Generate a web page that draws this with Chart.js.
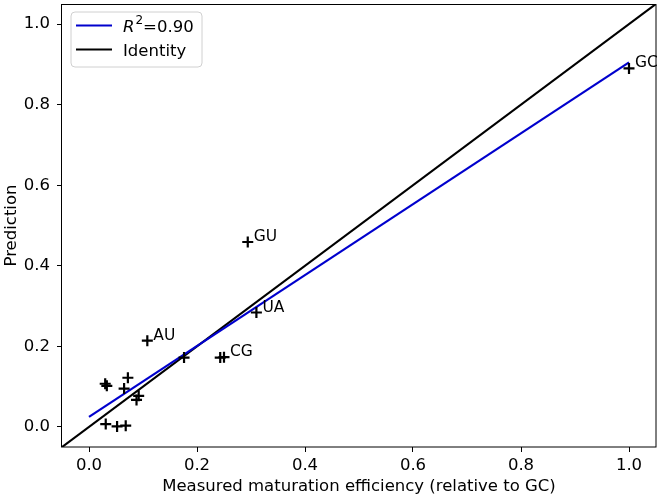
<!DOCTYPE html>
<html>
<head>
<meta charset="utf-8">
<script src="https://cdn.jsdelivr.net/npm/chart.js@4/dist/chart.umd.min.js"></script>
<style>
  body { margin: 0; background: #fff; }
  #wrap { width: 661px; height: 500px; }
</style>
</head>
<body>
<div id="wrap"><canvas id="chart" width="661" height="500"></canvas></div>
<script>
// measured vs predicted maturation efficiency
const measured  = [0.030, 0.033, 0.072, 0.065, 0.092, 0.088, 0.031, 0.052, 0.068, 0.108, 0.176, 0.243, 0.250, 0.310, 0.294, 1.000];
const predicted = [0.107, 0.102, 0.122, 0.095, 0.077, 0.067, 0.007, 0.001, 0.003, 0.214, 0.172, 0.172, 0.173, 0.284, 0.459, 0.890];
const pointNames = ['', '', '', '', '', '', '', '', '', 'AU', '', '', 'CG', 'UA', 'GU', 'GC'];

// regression fit (R^2 = 0.90) and identity line
const fitX = [0, 1];
const fitY = [0.025, 0.905];
const identityX = [-0.05, 1.05];
const identityY = [-0.05, 1.05];

const tickValues = [0, 0.2, 0.4, 0.6, 0.8, 1.0];
const axisMin = -0.05;
const axisMax = 1.05;

const FONT = '"DejaVu Sans", sans-serif';
const FS = 16.5;

// put the names next to the labelled points
const pointLabelPlugin = {
    id: 'pointLabels',
    afterDatasetsDraw(chart) {
        let ctx = chart.ctx;
        let xs = chart.scales.x, ys = chart.scales.y;
        ctx.save();
        ctx.font = '15.5px ' + FONT;
        ctx.fillStyle = '#000';
        ctx.textAlign = 'left';
        ctx.textBaseline = 'middle';
        pointNames.forEach((name, i) => {
            if (!name) return;
            ctx.fillText(name, xs.getPixelForValue(measured[i]) + 6, ys.getPixelForValue(predicted[i]) - 5);
        });
        ctx.restore();
    }
};

// axes frame + matplotlib style legend
const framePlugin = {
    id: 'frame',
    afterDraw(chart) {
        let ctx = chart.ctx;
        let a = chart.chartArea;
        ctx.save();
        ctx.strokeStyle = '#000';
        ctx.lineWidth = 1;
        ctx.strokeRect(Math.round(a.left) - 0.5, Math.round(a.top) + 0.5,
            Math.round(a.right - a.left) + 0.5, Math.round(a.bottom - a.top) - 0.5);

        // legend box
        let bx = 71, by = 12, bw = 131, bh = 55, r = 4;
        ctx.beginPath();
        ctx.moveTo(bx + r, by);
        ctx.arcTo(bx + bw, by, bx + bw, by + bh, r);
        ctx.arcTo(bx + bw, by + bh, bx, by + bh, r);
        ctx.arcTo(bx, by + bh, bx, by, r);
        ctx.arcTo(bx, by, bx + bw, by, r);
        ctx.closePath();
        ctx.fillStyle = 'rgba(255,255,255,0.8)';
        ctx.fill();
        ctx.strokeStyle = '#d0d0d0';
        ctx.stroke();

        ctx.lineWidth = 2.2;
        ctx.strokeStyle = '#0000cd';
        ctx.beginPath(); ctx.moveTo(76, 25.5); ctx.lineTo(112, 25.5); ctx.stroke();
        ctx.strokeStyle = '#000';
        ctx.beginPath(); ctx.moveTo(76, 49.5); ctx.lineTo(112, 49.5); ctx.stroke();

        ctx.fillStyle = '#000';
        ctx.textBaseline = 'alphabetic';
        ctx.textAlign = 'left';
        let x = 123;
        ctx.font = 'italic ' + FS + 'px ' + FONT;
        ctx.fillText('R', x, 31.5);
        x += ctx.measureText('R').width + 1;
        ctx.font = '12px ' + FONT;
        ctx.fillText('2', x, 24);
        x += ctx.measureText('2').width;
        ctx.font = FS + 'px ' + FONT;
        ctx.fillText('=0.90', x, 31.5);
        ctx.fillText('Identity', 123, 55.5);
        ctx.restore();
    }
};

const tickOpts = {
    color: '#000',
    font: { family: FONT, size: FS },
    callback: v => v.toFixed(1)
};
const gridOpts = {
    drawOnChartArea: false,
    drawTicks: true,
    tickLength: 5,
    tickWidth: 1,
    tickColor: '#000'
};

new Chart(document.getElementById('chart').getContext('2d'), {
    type: 'scatter',
    data: {
        datasets: [{
            label: 'points',
            data: measured.map((v, i) => ({x: v, y: predicted[i]})),
            pointStyle: 'cross',
            pointRadius: 5.5,
            borderWidth: 2.2,
            borderColor: '#000',
            backgroundColor: '#000',
            order: 0
        }, {
            label: 'R2',
            data: fitX.map((v, i) => ({x: v, y: fitY[i]})),
            showLine: true,
            pointRadius: 0,
            borderColor: '#0000cd',
            borderWidth: 2.2,
            order: 1
        }, {
            label: 'Identity',
            data: identityX.map((v, i) => ({x: v, y: identityY[i]})),
            showLine: true,
            pointRadius: 0,
            borderColor: '#000',
            borderWidth: 2.2,
            order: 2
        }]
    },
    options: {
        responsive: false,
        animation: false,
        layout: { autoPadding: false, padding: { top: 4, right: 5, left: 0, bottom: 0 } },
        plugins: {
            legend: { display: false },
            tooltip: { enabled: false }
        },
        scales: {
            x: {
                type: 'linear',
                min: axisMin,
                max: axisMax,
                afterBuildTicks: s => { s.ticks = tickValues.map(v => ({value: v})); },
                afterFit: s => { s.height = 53; s.paddingLeft = 0; s.paddingRight = 0; },
                ticks: Object.assign({ padding: 4, maxRotation: 0 }, tickOpts),
                grid: gridOpts,
                border: { display: false },
                title: {
                    display: true,
                    text: 'Measured maturation efficiency (relative to GC)',
                    color: '#000',
                    font: { family: FONT, size: FS },
                    padding: { top: 0, bottom: 3 }
                }
            },
            y: {
                type: 'linear',
                min: axisMin,
                max: axisMax,
                afterBuildTicks: s => { s.ticks = tickValues.map(v => ({value: v})); },
                afterFit: s => { s.width = 62; s.paddingTop = 0; s.paddingBottom = 0; },
                ticks: Object.assign({ padding: 7 }, tickOpts),
                grid: gridOpts,
                border: { display: false },
                title: {
                    display: true,
                    text: 'Prediction',
                    color: '#000',
                    font: { family: FONT, size: FS },
                    padding: { top: 2, bottom: 0 }
                }
            }
        }
    },
    plugins: [pointLabelPlugin, framePlugin]
});
</script>
</body>
</html>
